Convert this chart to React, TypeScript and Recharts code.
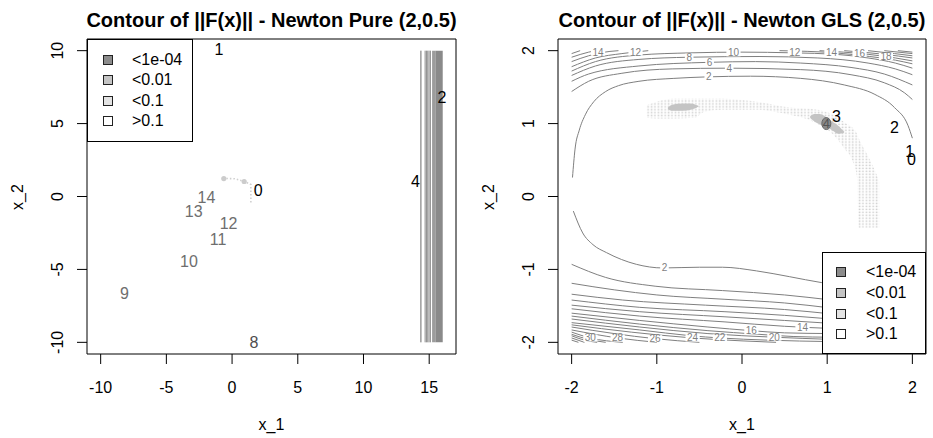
import React from 'react';
import { ComposedChart, Line, Area, Scatter, XAxis, YAxis, ReferenceArea, Legend } from 'recharts';

const FONT = '"Liberation Sans", Arial, Helvetica, sans-serif';

// legend shared by both panels
const legendLabels = ['<1e-04', '<0.01', '<0.1', '>0.1'];
const legendFills = ['#8c8c8c', '#c4c4c4', '#e3e3e3', '#ffffff'];

// ---- left panel: Newton Pure ----
const pureXTicks = [-10, -5, 0, 5, 10, 15];
const pureYTicks = [-10, -5, 0, 5, 10];
const pureXDomain = [-11.04, 17.04];
const pureYDomain = [-10.8, 10.8];
const pureIterText = ['0', '1', '2', '4', '8', '9', '10', '11', '12', '13', '14'];
const pureIterX = [1.98, -0.99, 15.98, 13.95, 1.66, -8.19, -3.28, -1.07, -0.27, -2.92, -1.95];
const pureIterY = [0.43, 10.1, 6.81, 1.05, -10.0, -6.63, -4.46, -2.94, -1.85, -1.05, -0.09];
const pureBandLineX = [14.37, 14.69, 14.79, 14.89, 14.99, 15.09];
const pureBandFillX = [15.22, 15.47, 16.03];
const pureBandY = [-10, 10];
const pureTraceX = [-0.7, 0.2, 0.95, 1.25, 1.43, 1.43];
const pureTraceY = [1.24, 1.22, 1.03, 0.9, 0.82, -0.43];
const pureRootX = [-0.63, 0.92];
const pureRootY = [1.23, 1.03];

// ---- right panel: Newton GLS ----
const glsTicks = [-2, -1, 0, 1, 2];
const glsDomain = [-2.16, 2.16];
const glsIterText = ['0', '1', '2', '3', '4'];
const glsIterX = [1.99, 1.97, 1.79, 1.11, 0.99];
const glsIterY = [0.51, 0.62, 0.95, 1.1, 1.0];

// contour lines entering from the top / left edge
const glsUpper: number[][][] = [
  [[-1.99, 0.26], [-1.96, 0.65], [-1.91, 0.91], [-1.84, 1.12], [-1.74, 1.3], [-1.6, 1.44], [-1.45, 1.52], [-1.21, 1.58], [-0.8, 1.62], [-0.42, 1.64], [0.1, 1.65], [0.69, 1.62], [1.2, 1.53], [1.56, 1.4], [1.79, 1.22], [1.95, 0.97], [2.0, 0.8]],
  [[-2.0, 1.44], [-1.8, 1.58], [-1.41, 1.69], [-0.82, 1.75], [-0.15, 1.76], [0.69, 1.74], [1.28, 1.67], [1.67, 1.56], [1.91, 1.42], [2.0, 1.33]],
  [[-2.0, 1.58], [-1.8, 1.68], [-1.21, 1.79], [-0.39, 1.84], [0.16, 1.85], [0.69, 1.83], [1.28, 1.77], [1.67, 1.68], [2.0, 1.53]],
  [[-2.0, 1.66], [-1.72, 1.79], [-1.21, 1.88], [-0.62, 1.91], [0.2, 1.92], [0.89, 1.9], [1.48, 1.83], [1.8, 1.75], [2.0, 1.67]],
  [[-2.0, 1.72], [-1.72, 1.85], [-1.21, 1.94], [-0.6, 1.97], [0.0, 1.98], [0.6, 1.97], [1.1, 1.95], [1.48, 1.9], [1.8, 1.83], [2.0, 1.76]],
  [[-2.0, 1.78], [-1.72, 1.9], [-1.41, 1.96], [-1.1, 2.0]],
  [[0.44, 2.0], [1.09, 1.97], [1.5, 1.92], [1.8, 1.87], [2.0, 1.82]],
  [[-2.0, 1.85], [-1.8, 1.93], [-1.55, 1.99], [-1.45, 2.0]],
  [[0.91, 2.0], [1.48, 1.95], [1.8, 1.9], [2.0, 1.86]],
  [[-2.0, 1.91], [-1.8, 1.98], [-1.72, 2.0]],
  [[1.2, 2.0], [1.67, 1.95], [2.0, 1.9]],
  [[-2.0, 1.96], [-1.9, 2.0]],
  [[1.48, 2.0], [1.79, 1.96], [2.0, 1.93]],
  [[1.67, 2.0], [2.0, 1.96]],
  [[1.83, 2.0], [2.0, 1.98]],
];

// contour lines along the bottom
const glsLower: number[][][] = [
  [[-1.98, -0.2], [-1.87, -0.5], [-1.75, -0.66], [-1.59, -0.77], [-1.24, -0.93], [-0.93, -0.98], [-0.5, -0.97], [-0.23, -0.97], [0.17, -1.02], [0.56, -1.1], [0.93, -1.18], [1.05, -1.2]],
  [[-2, -0.93], [-1.6, -1.11], [-1.02, -1.23], [-0.23, -1.29], [0.5, -1.35], [1.05, -1.42]],
  [[-2, -1.19], [-1.5, -1.28], [-1.0, -1.35], [-0.2, -1.41], [0.5, -1.46], [1.05, -1.53]],
  [[-2, -1.34], [-1.4, -1.42], [-0.43, -1.49], [0.5, -1.55], [1.05, -1.61]],
  [[-2, -1.42], [-1.2, -1.52], [-0.2, -1.58], [0.5, -1.63], [1.05, -1.68]],
  [[-2, -1.49], [-1.2, -1.58], [-0.2, -1.65], [0.5, -1.7], [1.05, -1.74]],
  [[-2, -1.54], [-1.2, -1.64], [-0.2, -1.72], [0.5, -1.78], [1.05, -1.81]],
  [[-2, -1.6], [-1.2, -1.7], [-0.4, -1.79], [0.11, -1.84], [0.5, -1.87], [1.05, -1.88]],
  [[-2, -1.64], [-1.2, -1.75], [-0.4, -1.84], [0.2, -1.89], [0.6, -1.92], [1.05, -1.93]],
  [[-2, -1.68], [-1.2, -1.79], [-0.4, -1.88], [0.38, -1.93], [1.05, -1.96]],
  [[-2, -1.73], [-1.2, -1.83], [-0.6, -1.91], [-0.26, -1.94], [0.3, -1.97], [1.05, -1.99]],
  [[-2, -1.76], [-1.3, -1.86], [-0.58, -1.94], [0.0, -1.98], [0.4, -2.0]],
  [[-2, -1.79], [-1.5, -1.88], [-1.02, -1.95], [-0.5, -2.0]],
  [[-2, -1.83], [-1.46, -1.94], [-1.0, -2.0]],
  [[-2, -1.86], [-1.78, -1.94], [-1.4, -2.0]],
  [[-2, -1.89], [-1.8, -1.96], [-1.6, -2.0]],
  [[-2, -1.91], [-1.85, -1.97], [-1.7, -2.0]],
  [[-2, -1.94], [-1.85, -2.0]],
  [[-2, -1.97], [-1.92, -2.0]],
];

// contour level labels
const glsTagText = ['14', '12', '10', '8', '6', '4', '2', '12', '14', '16', '18', '2', '30', '28', '26', '24', '22', '20', '16', '14'];
const glsTagX = [-1.69, -1.25, -0.1, -0.62, -0.38, -0.15, -0.39, 0.62, 1.05, 1.38, 1.69, -0.91, -1.78, -1.46, -1.02, -0.58, -0.26, 0.38, 0.11, 0.71];
const glsTagY = [1.98, 1.98, 1.97, 1.91, 1.84, 1.76, 1.64, 1.98, 1.98, 1.96, 1.92, -0.98, -1.94, -1.94, -1.95, -1.94, -1.94, -1.93, -1.84, -1.8];

// <0.1 region (dotted)
const glsBandX = [-1.12, -1.0, -0.81, -0.55, -0.45, -0.23, 0.17, 0.56, 0.83, 1.07, 1.2, 1.3, 1.35, 1.37, 1.45, 1.54, 1.61];
const glsBandLo = [1.08, 1.07, 1.07, 1.08, 1.16, 1.19, 1.19, 1.12, 1.03, 0.85, 0.66, 0.48, 0.26, -0.43, -0.43, -0.43, -0.43];
const glsBandHi = [1.25, 1.3, 1.34, 1.34, 1.34, 1.34, 1.3, 1.22, 1.2, 1.12, 1.02, 0.94, 0.86, 0.8, 0.62, 0.41, 0.21];
// <0.01 regions
const glsBlobAX = [-0.87, -0.82, -0.7, -0.6, -0.53, -0.51];
const glsBlobALo = [1.2, 1.175, 1.175, 1.19, 1.22, 1.235];
const glsBlobAHi = [1.22, 1.26, 1.275, 1.275, 1.25, 1.24];
const glsBlobBX = [0.8, 0.85, 0.91, 1.03, 1.14, 1.19, 1.2];
const glsBlobBLo = [1.08, 1.03, 0.99, 0.93, 0.86, 0.87, 0.88];
const glsBlobBHi = [1.1, 1.13, 1.13, 1.05, 0.96, 0.9, 0.89];
// <1e-04 region
const glsRootX = [0.99];
const glsRootY = [1.0];

const pts = (xs: number[], ys: number[]) => xs.map((x, i) => ({ x, y: ys[i] }));
const pairs = (p: number[][]) => p.map(([x, y]) => ({ x, y }));
const ranges = (xs: number[], lo: number[], hi: number[]) => xs.map((x, i) => ({ x, r: [lo[i], hi[i]] }));
const labelled = (t: string[], xs: number[], ys: number[]) => t.map((label, i) => ({ x: xs[i], y: ys[i], label, i }));

const LINE = '#7f7f7f';

const XTick = (p: any) => (
  <text x={p.x} y={p.y} dy={29} textAnchor="middle" fontSize={16} fill="#000">
    {p.payload.value}
  </text>
);
const YTick = (p: any) => (
  <text transform={`translate(${p.x - 14},${p.y}) rotate(-90)`} textAnchor="middle" fontSize={16} fill="#000">
    {p.payload.value}
  </text>
);

const iterShape = (colors: string[], small: number[]) => (p: any) => (
  <text
    x={p.cx}
    y={p.cy}
    textAnchor="middle"
    dominantBaseline="central"
    fontSize={small.includes(p.payload.i) ? 13 : 16}
    fill={colors[p.payload.i] ?? '#000'}
  >
    {p.payload.label}
  </text>
);

const tagShape = (p: any) => {
  const w = p.payload.label.length * 5.6 + 3;
  return (
    <g>
      <rect x={p.cx - w / 2} y={p.cy - 3.5} width={w} height={7} fill="#fff" />
      <text x={p.cx} y={p.cy} textAnchor="middle" dominantBaseline="central" fontSize={10} fill={LINE}>
        {p.payload.label}
      </text>
    </g>
  );
};

const rootShape = (p: any) => <ellipse cx={p.cx} cy={p.cy} rx={4.5} ry={6} fill="#8a8a8a" stroke="#666" strokeWidth={1} />;
const dotShape = (p: any) => <circle cx={p.cx} cy={p.cy} r={2.6} fill="#cccccc" />;

const legendContent = (sqX: number, txtX: number, rowY: number, gap: number) => () => (
  <div
    style={{
      position: 'relative',
      width: '100%',
      height: '100%',
      boxSizing: 'border-box',
      border: '1px solid #000',
      background: '#fff',
      fontFamily: FONT,
      fontSize: 16,
      color: '#000',
    }}
  >
    {legendLabels.map((lab, i) => (
      <React.Fragment key={lab}>
        <div
          style={{
            position: 'absolute',
            left: sqX - 5,
            top: rowY + i * gap - 5,
            width: 10,
            height: 10,
            boxSizing: 'border-box',
            border: '1px solid #222',
            background: legendFills[i],
          }}
        />
        <div style={{ position: 'absolute', left: txtX, top: rowY + i * gap - 9, lineHeight: '18px', whiteSpace: 'nowrap' }}>{lab}</div>
      </React.Fragment>
    ))}
  </div>
);

const pureColors = ['#000', '#000', '#000', '#000', '#4d4d4d', '#6e6e6e', '#6e6e6e', '#6e6e6e', '#6e6e6e', '#6e6e6e', '#6e6e6e'];
const glsColors = ['#000', '#000', '#000', '#000', '#555'];

function PurePanel() {
  return (
    <ComposedChart width={466} height={438} margin={{ top: 39, right: 10, bottom: 34, left: 27 }}>
      <XAxis
        type="number"
        dataKey="x"
        domain={pureXDomain}
        ticks={pureXTicks}
        interval={0}
        allowDataOverflow
        axisLine={false}
        tickLine={{ stroke: '#000' }}
        tickSize={10}
        tickMargin={0}
        height={50}
        tick={XTick}
      />
      <YAxis
        type="number"
        dataKey="y"
        domain={pureYDomain}
        ticks={pureYTicks}
        interval={0}
        allowDataOverflow
        axisLine={false}
        tickLine={{ stroke: '#000' }}
        tickSize={10}
        tickMargin={0}
        width={60}
        tick={YTick}
      />
      {pureBandFillX.slice(1).map((x, i) => (
        <Area
          key={`bf${i}`}
          data={ranges([pureBandFillX[i], x], [pureBandY[0], pureBandY[0]], [pureBandY[1], pureBandY[1]])}
          dataKey="r"
          type="linear"
          stroke="none"
          fill={i === 0 ? '#9c9c9c' : '#8a8a8a'}
          fillOpacity={1}
          isAnimationActive={false}
          dot={false}
          activeDot={false}
          legendType="none"
        />
      ))}
      {pureBandLineX.map((x, i) => (
        <Line
          key={`bl${i}`}
          data={pts([x, x], pureBandY)}
          dataKey="y"
          type="linear"
          stroke={i === 0 ? '#6a6a6a' : '#8c8c8c'}
          strokeWidth={1}
          dot={false}
          activeDot={false}
          isAnimationActive={false}
          legendType="none"
        />
      ))}
      <Line
        data={pts(pureTraceX, pureTraceY)}
        dataKey="y"
        type="linear"
        stroke="#cfcfcf"
        strokeWidth={1.6}
        strokeDasharray="1.5 2"
        dot={false}
        activeDot={false}
        isAnimationActive={false}
        legendType="none"
      />
      <Scatter data={pts(pureRootX, pureRootY)} dataKey="y" shape={dotShape} isAnimationActive={false} legendType="none" />
      <Scatter
        data={labelled(pureIterText, pureIterX, pureIterY)}
        dataKey="y"
        shape={iterShape(pureColors, [])}
        isAnimationActive={false}
        legendType="none"
      />
      <ReferenceArea
        x1={pureXDomain[0]}
        x2={pureXDomain[1]}
        y1={pureYDomain[0]}
        y2={pureYDomain[1]}
        fill="none"
        fillOpacity={0}
        stroke="#000"
        strokeWidth={1}
        ifOverflow="visible"
      />
      <Legend
        layout="horizontal"
        verticalAlign="middle"
        align="center"
        wrapperStyle={{ left: 87, top: 39, width: 106, height: 103 }}
        content={legendContent(20, 44, 20, 20.4)}
      />
    </ComposedChart>
  );
}

function GlsPanel() {
  return (
    <ComposedChart width={467} height={438} margin={{ top: 39, right: 7, bottom: 34, left: 32 }}>
      <XAxis
        type="number"
        dataKey="x"
        domain={glsDomain}
        ticks={glsTicks}
        interval={0}
        allowDataOverflow
        axisLine={false}
        tickLine={{ stroke: '#000' }}
        tickSize={10}
        tickMargin={0}
        height={50}
        tick={XTick}
      />
      <YAxis
        type="number"
        dataKey="y"
        domain={glsDomain}
        ticks={glsTicks}
        interval={0}
        allowDataOverflow
        axisLine={false}
        tickLine={{ stroke: '#000' }}
        tickSize={10}
        tickMargin={0}
        width={60}
        tick={YTick}
      />
      <Area
        data={ranges(glsBandX, glsBandLo, glsBandHi)}
        dataKey="r"
        type="monotone"
        stroke="none"
        fill="url(#glsDots)"
        fillOpacity={1}
        isAnimationActive={false}
        dot={false}
        activeDot={false}
        legendType="none"
      />
      <Area
        data={ranges(glsBlobAX, glsBlobALo, glsBlobAHi)}
        dataKey="r"
        type="monotone"
        stroke="none"
        fill="#c4c4c4"
        fillOpacity={1}
        isAnimationActive={false}
        dot={false}
        activeDot={false}
        legendType="none"
      />
      <Area
        data={ranges(glsBlobBX, glsBlobBLo, glsBlobBHi)}
        dataKey="r"
        type="monotone"
        stroke="none"
        fill="#c4c4c4"
        fillOpacity={1}
        isAnimationActive={false}
        dot={false}
        activeDot={false}
        legendType="none"
      />
      <Scatter data={pts(glsRootX, glsRootY)} dataKey="y" shape={rootShape} isAnimationActive={false} legendType="none" />
      {[...glsUpper, ...glsLower].map((c, i) => (
        <Line
          key={`c${i}`}
          data={pairs(c)}
          dataKey="y"
          type="monotone"
          stroke={LINE}
          strokeWidth={1}
          dot={false}
          activeDot={false}
          isAnimationActive={false}
          legendType="none"
        />
      ))}
      <Scatter data={labelled(glsTagText, glsTagX, glsTagY)} dataKey="y" shape={tagShape} isAnimationActive={false} legendType="none" />
      <Scatter
        data={labelled(glsIterText, glsIterX, glsIterY)}
        dataKey="y"
        shape={iterShape(glsColors, [4])}
        isAnimationActive={false}
        legendType="none"
      />
      <ReferenceArea
        x1={glsDomain[0]}
        x2={glsDomain[1]}
        y1={glsDomain[0]}
        y2={glsDomain[1]}
        fill="none"
        fillOpacity={0}
        stroke="#000"
        strokeWidth={1}
        ifOverflow="visible"
      />
      <Legend
        layout="horizontal"
        verticalAlign="middle"
        align="center"
        wrapperStyle={{ left: 356, top: 252, width: 104, height: 102 }}
        content={legendContent(18, 43, 19, 20.8)}
      />
    </ComposedChart>
  );
}

export default function App() {
  return (
    <div style={{ position: 'absolute', left: 0, top: 0, width: 933, height: 438, background: '#fff', fontFamily: FONT, overflow: 'hidden' }}>
      <svg width={933} height={438} style={{ position: 'absolute', left: 0, top: 0 }}>
        <defs>
          <pattern id="glsDots" width={3.41} height={2.93} patternUnits="userSpaceOnUse">
            <rect x={0.6} y={0.6} width={1.6} height={1.5} fill="#cfcfcf" />
          </pattern>
        </defs>
        <g fontFamily={FONT} fill="#000">
          <text x={271.5} y={27} textAnchor="middle" fontSize={20} fontWeight="bold">
            Contour of ||F(x)|| - Newton Pure (2,0.5)
          </text>
          <text x={742} y={27} textAnchor="middle" fontSize={20} fontWeight="bold">
            Contour of ||F(x)|| - Newton GLS (2,0.5)
          </text>
          <text x={271.5} y={430} textAnchor="middle" fontSize={16}>x_1</text>
          <text x={742} y={430} textAnchor="middle" fontSize={16}>x_1</text>
          <text transform="translate(23,197) rotate(-90)" textAnchor="middle" fontSize={16}>x_2</text>
          <text transform="translate(494,197) rotate(-90)" textAnchor="middle" fontSize={16}>x_2</text>
        </g>
      </svg>
      <div style={{ position: 'absolute', left: 0, top: 0 }}>
        <PurePanel />
      </div>
      <div style={{ position: 'absolute', left: 466, top: 0 }}>
        <GlsPanel />
      </div>
    </div>
  );
}
